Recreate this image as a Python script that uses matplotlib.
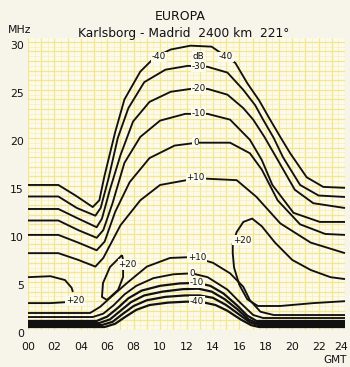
import matplotlib
matplotlib.use("Agg")
import matplotlib.pyplot as plt
import numpy as np
from matplotlib.transforms import ScaledTranslation

# axis ticks
hour_ticks = [0, 2, 4, 6, 8, 10, 12, 14, 16, 18, 20, 22, 24]
hour_labels = ["00", "02", "04", "06", "08", "10", "12", "14", "16", "18", "20", "22", "24"]
mhz_ticks = [0, 5, 10, 15, 20, 25, 30]
mhz_labels = ["0", "5", "10", "15", "20", "25", "30"]

# upper (MUF side) field-strength contours, dB
upper_m40_h = [0, 2.3, 3.6, 4.9, 5.4, 5.8, 6.6, 7.3, 8.5, 9.6, 10.8, 12.3, 13.9, 15.7, 16.6, 17.5, 18.33, 19.1, 19.85, 21.1, 22.35, 24]
upper_m40_f = [15.1, 15.1, 14.0, 12.8, 13.5, 16.1, 20.6, 24.0, 26.9, 28.4, 29.2, 29.6, 29.5, 27.8, 25.7, 23.9, 21.9, 20.1, 18.4, 15.9, 14.9, 14.8]
upper_m30_h = [0, 2.3, 3.7, 5.1, 5.5, 6.1, 6.8, 7.6, 8.8, 10.4, 12.1, 13.6, 15.1, 16.3, 17.2, 17.8, 18.6, 19.3, 20.6, 22.0, 24]
upper_m30_f = [13.9, 13.9, 12.7, 11.9, 12.7, 15.8, 20.0, 23.1, 25.8, 27.1, 27.5, 27.4, 26.8, 25.0, 23.4, 21.9, 20.0, 18.0, 15.1, 14.0, 13.85]
upper_m20_h = [0, 2.3, 3.8, 5.2, 5.6, 6.2, 7.0, 7.95, 9.2, 10.8, 12.3, 13.6, 15.1, 16.3, 17.05, 17.9, 18.7, 20.2, 21.6, 24]
upper_m20_f = [12.6, 12.6, 11.6, 10.7, 11.6, 14.6, 18.2, 21.7, 23.75, 24.8, 25.1, 25.1, 24.5, 23.1, 21.9, 20.1, 18.2, 14.6, 13.2, 12.7]
upper_m10_h = [0, 2.3, 3.8, 5.2, 5.7, 6.4, 7.3, 8.5, 10.0, 11.9, 13.6, 15.3, 16.8, 17.7, 18.5, 20.1, 22.1, 24]
upper_m10_f = [11.4, 11.4, 10.4, 9.6, 10.4, 13.2, 17.4, 20.1, 21.8, 22.5, 22.5, 21.9, 19.8, 17.7, 15.1, 12.2, 11.25, 11.25]
upper_0_h = [0, 2.3, 3.8, 5.2, 5.8, 6.6, 7.7, 9.2, 11.1, 12.8, 15.3, 16.8, 17.7, 18.9, 20.6, 22.5, 24]
upper_0_f = [9.9, 9.9, 9.1, 8.3, 9.2, 12.3, 15.4, 17.9, 19.2, 19.5, 19.5, 18.4, 16.7, 13.5, 11.0, 10.0, 9.9]
upper_p10_h = [0, 2.3, 3.8, 5.1, 5.7, 7.0, 8.5, 10.0, 12.8, 15.8, 17.3, 19.1, 21.4, 24]
upper_p10_f = [8.0, 8.0, 7.3, 6.6, 7.5, 10.9, 13.5, 15.1, 15.8, 15.6, 13.85, 11.1, 9.1, 8.0]

# +20 dB regions
right_p20_h = [24, 22.9, 21.4, 20.0, 18.7, 17.7, 16.97, 16.3, 15.8, 15.5, 15.5, 15.6, 16.0, 16.6, 17.4, 19.1, 21.6, 24]
right_p20_f = [5.3, 5.5, 6.25, 7.3, 9.1, 10.8, 11.6, 11.25, 10.2, 9.0, 8.0, 6.5, 4.7, 3.2, 2.5, 2.5, 2.8, 3.0]
loop_p20_h = [7.12, 6.21, 5.68, 5.6, 5.98, 6.82, 7.2, 7.2, 7.12]
loop_p20_f = [7.8, 6.56, 4.9, 3.44, 3.13, 4.17, 5.52, 7.29, 7.8]
left_p20_upper_h = [0, 1.7, 2.8, 3.3, 3.4]
left_p20_upper_f = [5.5, 5.6, 5.2, 4.4, 3.96]
left_p20_lower_h = [0, 1.7, 2.9]
left_p20_lower_f = [2.8, 2.8, 2.9]

# lower (LUF side) contours, dB
lower_p10_h = [0, 4.7, 5.45, 6.5, 7.5, 9.0, 10.75, 12.5, 14.0, 15.3, 16.3, 16.8, 17.6, 18.6, 24]
lower_p10_f = [1.77, 1.77, 2.4, 3.7, 4.9, 6.6, 7.5, 7.6, 7.0, 5.9, 4.5, 3.1, 1.9, 1.56, 1.56]
lower_0_h = [0, 4.9, 5.7, 6.5, 7.3, 8.2, 9.5, 11.0, 12.4, 13.6, 15.1, 16.1, 17.05, 17.8, 24]
lower_0_f = [1.35, 1.35, 1.7, 2.6, 3.7, 4.6, 5.4, 5.8, 5.9, 5.5, 4.2, 2.8, 1.56, 1.25, 1.25]
lower_m10_h = [0, 5.2, 6.0, 6.8, 7.6, 8.6, 10.0, 11.5, 12.8, 13.8, 14.8, 15.8, 16.6, 17.3, 24]
lower_m10_f = [0.94, 0.94, 1.4, 2.3, 3.3, 4.1, 4.6, 4.85, 4.9, 4.6, 3.8, 2.6, 1.5, 0.94, 0.94]
lower_m20_h = [0, 5.4, 6.2, 7.0, 7.8, 8.8, 10.2, 11.7, 12.9, 13.9, 14.9, 15.9, 16.7, 17.3, 24]
lower_m20_f = [0.73, 0.73, 1.1, 2.0, 2.9, 3.6, 4.0, 4.25, 4.3, 4.0, 3.2, 2.1, 1.1, 0.73, 0.73]
lower_m30_h = [0, 5.6, 6.4, 7.2, 8.0, 9.0, 10.4, 11.9, 13.0, 14.0, 15.0, 16.0, 16.8, 17.4, 24]
lower_m30_f = [0.52, 0.52, 0.85, 1.7, 2.5, 3.1, 3.45, 3.6, 3.6, 3.35, 2.6, 1.6, 0.8, 0.52, 0.52]
lower_m40_h = [0, 5.8, 6.6, 7.4, 8.2, 9.2, 10.6, 12.0, 13.2, 14.2, 15.1, 16.1, 16.9, 17.5, 24]
lower_m40_f = [0.31, 0.31, 0.65, 1.4, 2.1, 2.6, 2.85, 2.95, 2.9, 2.6, 2.0, 1.1, 0.5, 0.31, 0.31]

# inline labels: text, hour, MHz
label_text = ["-40", "dB", "-40", "-30", "-20", "-10", "0", "+10",
              "+20", "+20", "+20", "+10", "0", "-10", "-40"]
label_hour = [9.9, 12.9, 15.0, 12.9, 12.9, 12.9, 12.7, 12.7,
              16.2, 7.55, 3.55, 12.8, 12.4, 12.8, 12.8]
label_mhz = [28.45, 28.5, 28.45, 27.45, 25.15, 22.55, 19.55, 15.85,
             9.35, 6.8, 3.05, 7.6, 5.9, 4.9, 2.95]

fig_bg = "#f7f4ea"
plot_bg = "#fcfaea"
grid_c = "#f3e68c"
ink = "#111111"

fig = plt.figure(figsize=(3.5, 3.67), dpi=100, facecolor=fig_bg)
ax = fig.add_axes([28 / 350, 1 - 330 / 367, 317 / 350, 292 / 367])
ax.set_facecolor(plot_bg)
ax.set_xlim(0, 24)
ax.set_ylim(0, 30.4)
for s in ax.spines.values():
    s.set_visible(False)

# yellow chart-paper grid
ax.vlines(np.arange(0.5, 24, 1.0), 0, 30.4, color=grid_c, lw=0.45, alpha=0.6, zorder=0)
ax.hlines(np.arange(0.5, 30.4, 1.0), 0, 24, color=grid_c, lw=0.45, alpha=0.6, zorder=0)
ax.vlines(np.arange(0, 24.01, 1.0), 0, 30.4, color=grid_c, lw=0.9, zorder=0)
ax.hlines(np.arange(0, 30.41, 1.0), 0, 24, color=grid_c, lw=0.9, zorder=0)

upper_curves = [
    (upper_m40_h, upper_m40_f), (upper_m30_h, upper_m30_f), (upper_m20_h, upper_m20_f),
    (upper_m10_h, upper_m10_f), (upper_0_h, upper_0_f), (upper_p10_h, upper_p10_f),
    (right_p20_h, right_p20_f), (loop_p20_h, loop_p20_f),
    (left_p20_upper_h, left_p20_upper_f), (left_p20_lower_h, left_p20_lower_f),
    (lower_p10_h, lower_p10_f), (lower_0_h, lower_0_f),
]
band_curves = [
    (lower_m10_h, lower_m10_f), (lower_m20_h, lower_m20_f),
    (lower_m30_h, lower_m30_f), (lower_m40_h, lower_m40_f),
]
for h, f in upper_curves:
    ax.plot(h, f, color=ink, lw=1.35, solid_joinstyle="round", solid_capstyle="butt",
            zorder=3, clip_on=False)
for h, f in band_curves:
    ax.plot(h, f, color=ink, lw=1.6, solid_joinstyle="round", solid_capstyle="butt",
            zorder=3, clip_on=False)

for t, h, f in zip(label_text, label_hour, label_mhz):
    ax.text(h, f, t, fontsize=6.3, color=ink, ha="center", va="center", zorder=4,
            bbox=dict(boxstyle="square,pad=0.08", fc=plot_bg, ec="none"))

ax.set_xticks(hour_ticks, hour_labels)
ax.set_yticks(mhz_ticks, mhz_labels)
ax.tick_params(length=0, labelsize=7.8, colors=ink)
ax.tick_params(axis="x", pad=8.5)
ax.tick_params(axis="y", pad=3)
for lab in ax.get_yticklabels():
    lab.set_transform(lab.get_transform() + ScaledTranslation(0, -2 / 72, fig.dpi_scale_trans))
# keep the last hour label inside the figure edge
last = ax.get_xticklabels()[-1]
last.set_transform(last.get_transform() + ScaledTranslation(-4 / 100, 0, fig.dpi_scale_trans))

fig.text(180 / 350, 1 - 17 / 367, "EUROPA", fontsize=9, color=ink, ha="center", va="center")
fig.text(184 / 350, 1 - 33 / 367, "Karlsborg - Madrid  2400 km  221°", fontsize=8.8,
         color=ink, ha="center", va="center")
fig.text(8 / 350, 1 - 30 / 367, "MHz", fontsize=7.8, color=ink, ha="left", va="center")
fig.text(347 / 350, 1 - 360 / 367, "GMT", fontsize=7.6, color=ink, ha="right", va="center")

fig.savefig("out.png", dpi=100, facecolor=fig_bg)
